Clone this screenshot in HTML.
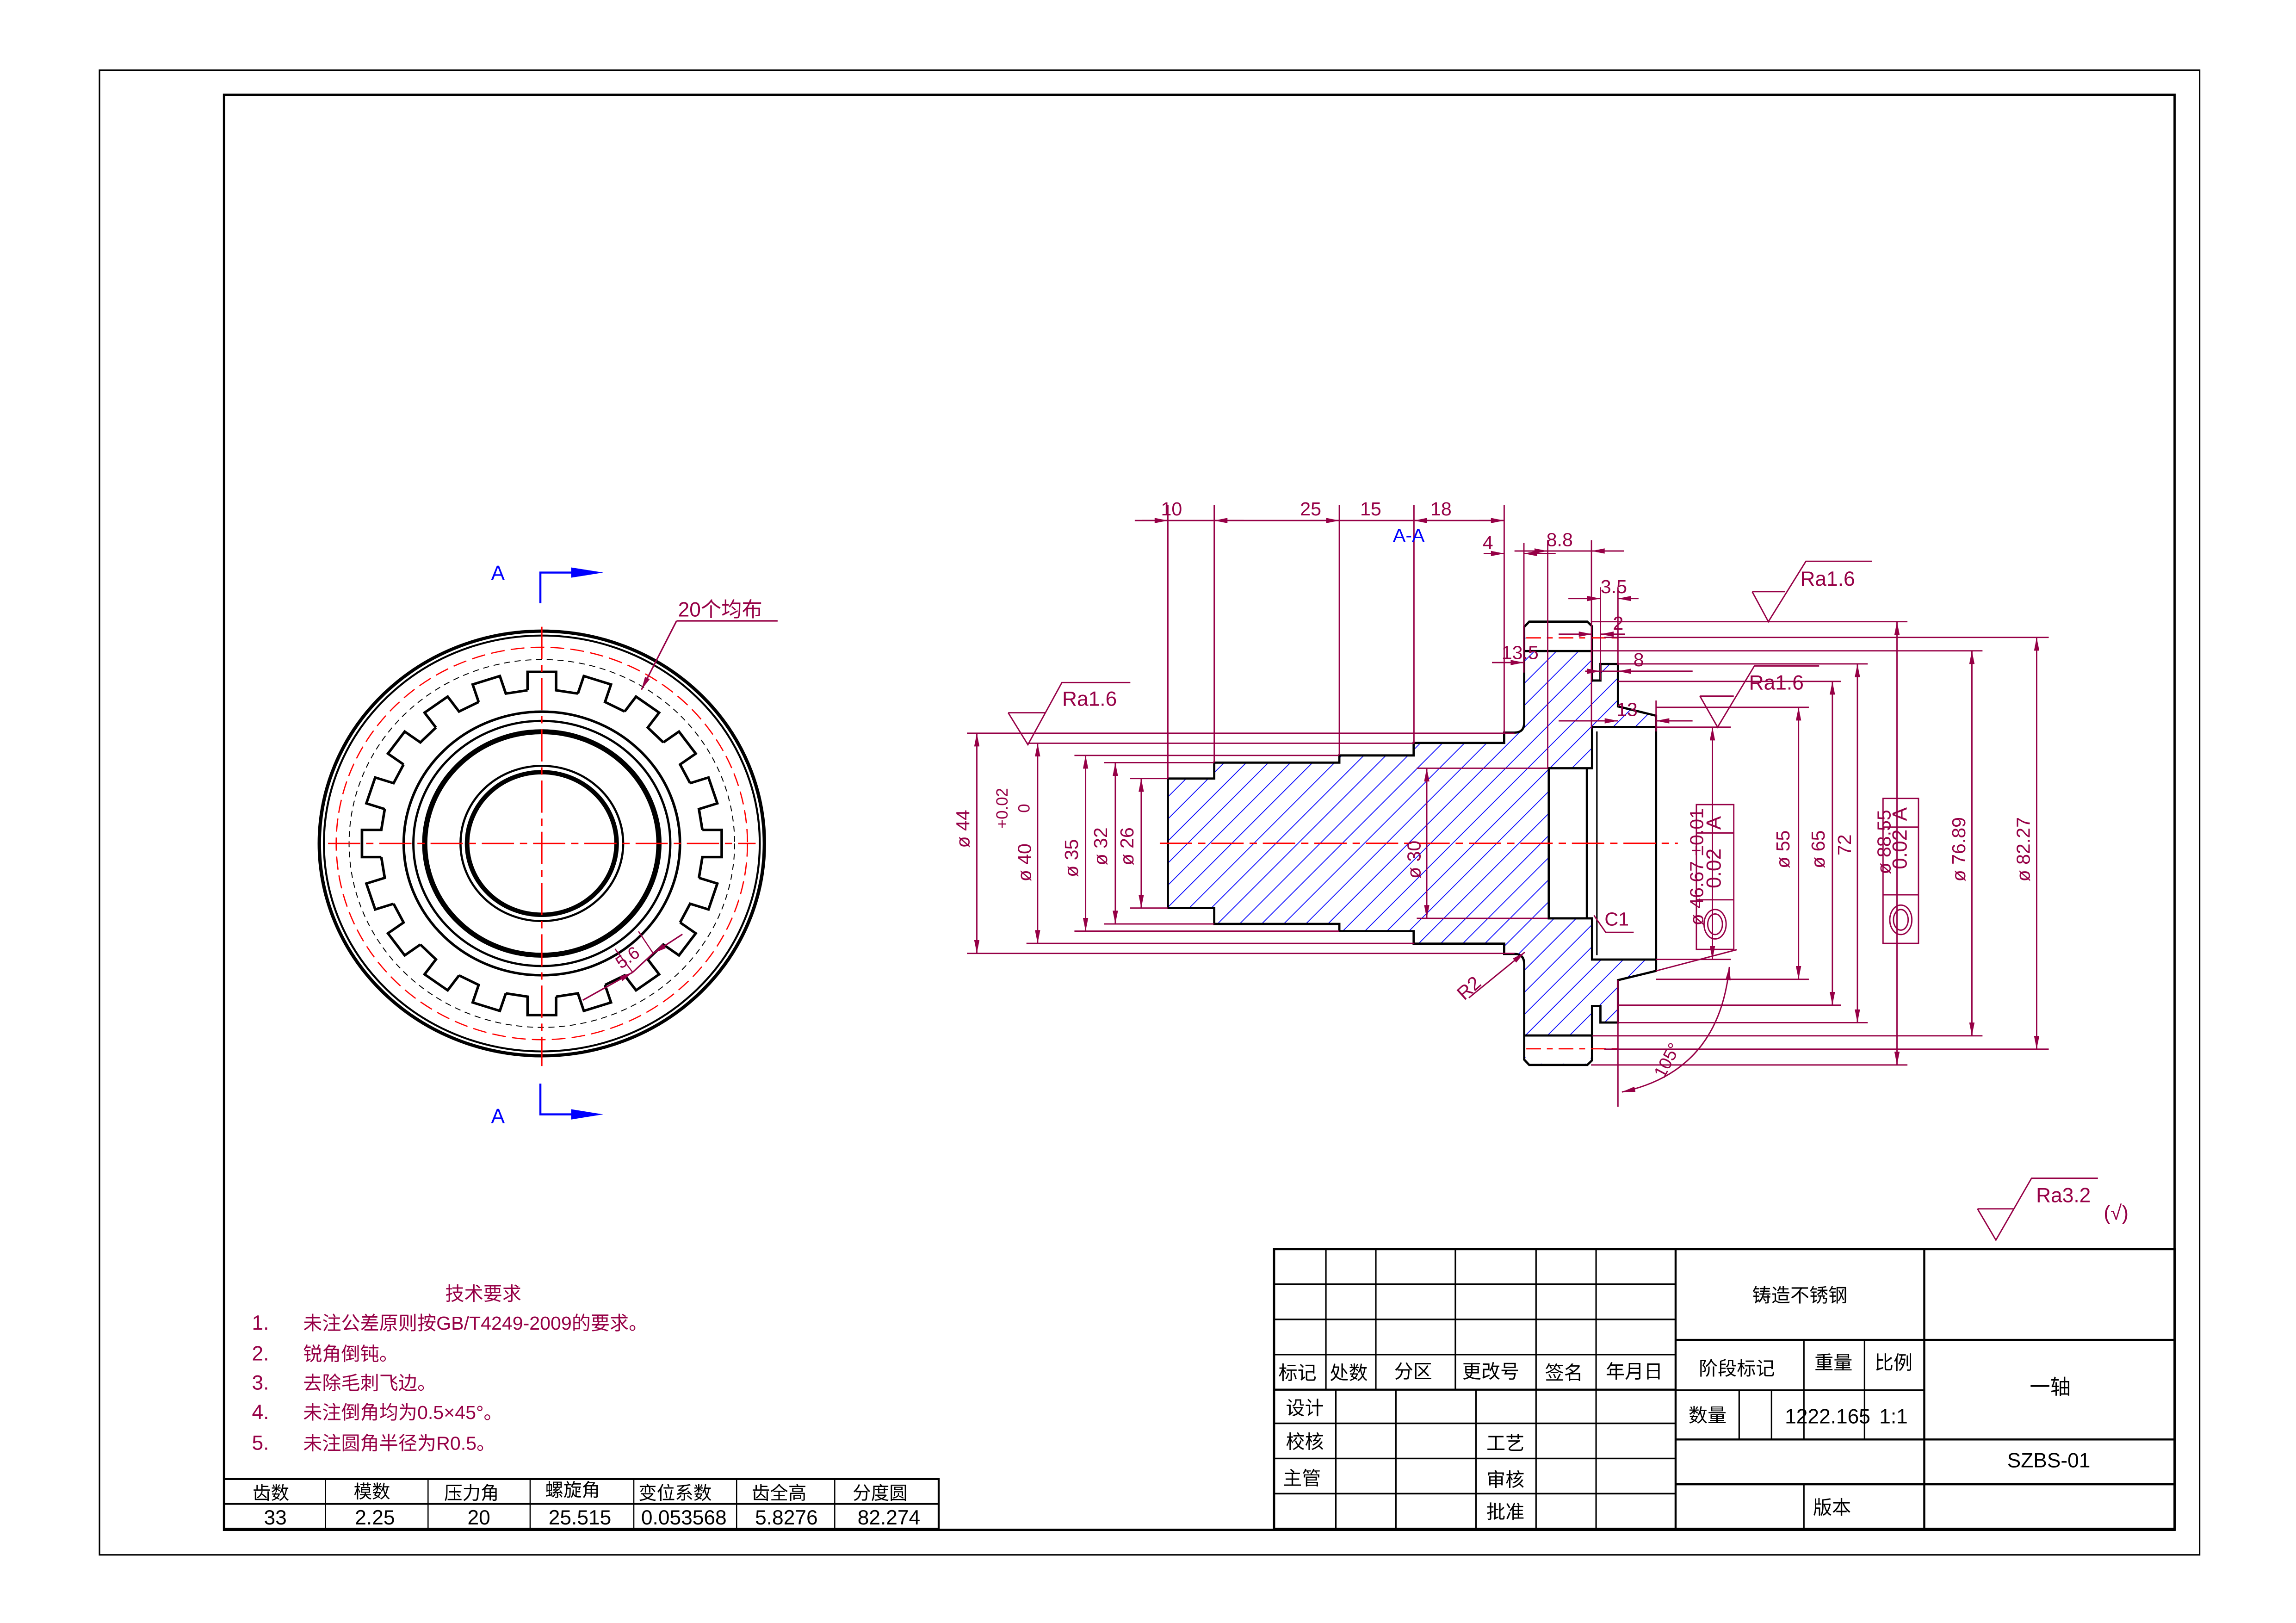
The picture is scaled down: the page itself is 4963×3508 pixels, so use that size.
<!DOCTYPE html>
<html><head><meta charset="utf-8">
<style>
html,body{margin:0;padding:0;background:#fff;}
svg{display:block;}
text{font-family:"Liberation Sans Narrow","Liberation Sans","Noto Sans CJK SC",sans-serif;}
</style></head>
<body>
<svg xmlns="http://www.w3.org/2000/svg" width="4963" height="3508" viewBox="0 0 1560 1102.8" preserveAspectRatio="none">
<defs>
<marker id="ar" viewBox="0 0 10 4" refX="10" refY="2" markerWidth="10" markerHeight="3.6" markerUnits="userSpaceOnUse" orient="auto-start-reverse">
<path d="M0,0 L10,2 L0,4 z" fill="#960046"/></marker>
<pattern id="hatch" patternUnits="userSpaceOnUse" width="15" height="15">
<path d="M-2,17 L17,-2 M-2,2 L2,-2 M13,17 L17,13" stroke="#0000ff" stroke-width="0.55"/></pattern>
<clipPath id="mat"><path id="matp" d="M793.5,529 L825,529 L825,518.2 L910,518.2 L910,513.3 L960.5,513.3 L960.5,504.8 L1022,504.8 L1022,497.8 L1029,497.8 Q1035.6,497.8 1035.6,491 L1035.6,426 L1039,422.4 L1078.5,422.4 L1081.7,425.5 L1081.7,462.4 L1087.4,462.4 L1087.4,451.2 L1099.3,451.2 L1099.3,480 L1125.2,486.3 L1125.2,494 L1081.7,494 L1081.7,522 L1052.3,522 L1052.3,624 L1081.7,624 L1081.7,652 L1125.2,652 L1125.2,659.7 L1099.3,666 L1099.3,694.8 L1087.4,694.8 L1087.4,683.6 L1081.7,683.6 L1081.7,720.5 L1078.5,723.6 L1039,723.6 L1035.6,720 L1035.6,655 Q1035.6,648.2 1029,648.2 L1022,648.2 L1022,641.2 L960.5,641.2 L960.5,632.7 L910,632.7 L910,627.8 L825,627.8 L825,617 L793.5,617 Z"/></clipPath>
<path id="tooth" d="M-9.3,-104.6 L-9.3,-117.2 L9.3,-117.2 L9.3,-104.6 L23.48,-102.36" fill="none" stroke="#000" stroke-width="1.7"/>
</defs>

<rect width="1560" height="1102.8" fill="#fff"/>
<!-- frames -->
<rect x="67.6" y="47.7" width="1426.9" height="1008.8" fill="none" stroke="#000" stroke-width="1"/>
<rect x="152.2" y="64.4" width="1325.3" height="975.1" fill="none" stroke="#000" stroke-width="1.5"/>

<!-- ===== GEAR VIEW (perceived coords) ===== -->
<g transform="scale(0.995)">
<g transform="translate(370,576) scale(1.048,1)" fill="none">
<circle r="145" stroke="#000" stroke-width="2.2"/>
<circle r="142" stroke="#000" stroke-width="1.3"/>
<circle r="134" stroke="#f00" stroke-width="0.8" stroke-dasharray="9 4"/>
<circle r="125.6" stroke="#000" stroke-width="0.6" stroke-dasharray="4 3"/>
<use href="#tooth"/><use href="#tooth" transform="rotate(18)"/><use href="#tooth" transform="rotate(36)"/><use href="#tooth" transform="rotate(54)"/><use href="#tooth" transform="rotate(72)"/><use href="#tooth" transform="rotate(90)"/><use href="#tooth" transform="rotate(108)"/><use href="#tooth" transform="rotate(126)"/><use href="#tooth" transform="rotate(144)"/><use href="#tooth" transform="rotate(162)"/><use href="#tooth" transform="rotate(180)"/><use href="#tooth" transform="rotate(198)"/><use href="#tooth" transform="rotate(216)"/><use href="#tooth" transform="rotate(234)"/><use href="#tooth" transform="rotate(252)"/><use href="#tooth" transform="rotate(270)"/><use href="#tooth" transform="rotate(288)"/><use href="#tooth" transform="rotate(306)"/><use href="#tooth" transform="rotate(324)"/><use href="#tooth" transform="rotate(342)"/>
<circle r="90" stroke="#000" stroke-width="1.7"/>
<circle r="83.7" stroke="#000" stroke-width="1.5"/>
<circle r="76.3" stroke="#000" stroke-width="3.4"/>
<circle r="53" stroke="#000" stroke-width="1.4"/>
<circle r="48.7" stroke="#000" stroke-width="3"/>
</g>
<line x1="224" y1="576" x2="516" y2="576" stroke="#f00" stroke-width="0.9" stroke-dasharray="22 4 5 4"/>
<line x1="370" y1="428" x2="370" y2="728" stroke="#f00" stroke-width="0.9" stroke-dasharray="22 4 5 4"/>
<!-- section markers -->
<text x="340" y="396" font-size="14" fill="#0000ff" text-anchor="middle">A</text>
<path d="M369,412 L369,391 L392,391" stroke="#0000ff" stroke-width="1.4" fill="none"/>
<path d="M390,387.5 L412,391 L390,394.5 z" fill="#0000ff"/>
<text x="340" y="767" font-size="14" fill="#0000ff" text-anchor="middle">A</text>
<path d="M369,740 L369,761 L392,761" stroke="#0000ff" stroke-width="1.4" fill="none"/>
<path d="M390,757.5 L412,761 L390,764.5 z" fill="#0000ff"/>
<!-- 20 leader -->
<text x="463" y="421" font-size="14" fill="#960046" font-family="Liberation Sans Narrow,Liberation Sans,Noto Sans CJK SC,sans-serif">20个均布</text>
<line x1="462" y1="424" x2="531" y2="424" stroke="#960046" stroke-width="1"/>
<line x1="462" y1="424" x2="438" y2="471" stroke="#960046" stroke-width="1" marker-end="url(#ar)"/>
<!-- 5.6 -->
<line x1="398" y1="683" x2="432" y2="664" stroke="#960046" stroke-width="1" marker-end="url(#ar)"/>
<line x1="466" y1="638" x2="446" y2="651" stroke="#960046" stroke-width="1" marker-end="url(#ar)"/>
<line x1="432" y1="664" x2="446" y2="651" stroke="#960046" stroke-width="1"/>
<line x1="432" y1="664" x2="420" y2="648" stroke="#960046" stroke-width="0.8"/>
<line x1="446" y1="651" x2="436" y2="636" stroke="#960046" stroke-width="0.8"/>
<text transform="translate(424,662) rotate(-35)" font-size="12" fill="#960046">5.6</text>
</g>

<!-- ===== SECTION VIEW (true coords) ===== -->
<path d="M0,0" />
<rect x="780" y="410" width="360" height="330" fill="url(#hatch)" clip-path="url(#mat)"/>
<rect x="1036.5" y="423.3" width="44.3" height="19.1" fill="#fff"/>
<rect x="1036.5" y="703.6" width="44.3" height="19.1" fill="#fff"/>
<use href="#matp" fill="none" stroke="#000" stroke-width="1.5"/>
<g stroke="#000" fill="none">
<line x1="1035.6" y1="442.4" x2="1081.7" y2="442.4" stroke-width="1.5"/>
<line x1="1035.6" y1="703.6" x2="1081.7" y2="703.6" stroke-width="1.5"/>
<line x1="1125.2" y1="494" x2="1125.2" y2="652" stroke-width="1.5"/>
<line x1="1078.2" y1="522" x2="1078.2" y2="624" stroke-width="1.5"/>
<line x1="1085" y1="497" x2="1085" y2="649" stroke-width="1"/>
</g>
<g stroke="#f00" stroke-width="0.9" fill="none">
<line x1="788" y1="573" x2="1140" y2="573" stroke-dasharray="22 4 5 4"/>
<line x1="1037" y1="433.4" x2="1099" y2="433.4" stroke-dasharray="10 4 4 4"/>
<line x1="1037" y1="712.6" x2="1099" y2="712.6" stroke-dasharray="10 4 4 4"/>
</g>

<!-- dimension lines -->
<g stroke="#960046" stroke-width="0.9" fill="none">
<!-- top chain -->
<line x1="771" y1="353.7" x2="1022" y2="353.7"/>
<line x1="793.5" y1="343" x2="793.5" y2="529"/>
<line x1="825" y1="343" x2="825" y2="518"/>
<line x1="910" y1="343" x2="910" y2="513"/>
<line x1="960.7" y1="343" x2="960.7" y2="505"/>
<line x1="1022" y1="343" x2="1022" y2="498"/>
<line x1="776" y1="353.7" x2="793.5" y2="353.7" marker-end="url(#ar)"/>
<line x1="845" y1="353.7" x2="825" y2="353.7" marker-end="url(#ar)"/>
<line x1="890" y1="353.7" x2="910" y2="353.7" marker-end="url(#ar)"/>
<line x1="980" y1="353.7" x2="960.7" y2="353.7" marker-end="url(#ar)"/>
<line x1="1005" y1="353.7" x2="1022" y2="353.7" marker-end="url(#ar)"/>
<!-- 4 and 8.8 -->
<line x1="1035.4" y1="369" x2="1035.4" y2="457"/>
<line x1="1051.6" y1="367" x2="1051.6" y2="522"/>
<line x1="1081.3" y1="367" x2="1081.3" y2="495"/>
<line x1="1008" y1="376.1" x2="1022" y2="376.1" marker-end="url(#ar)"/>
<line x1="1057" y1="376.1" x2="1035.4" y2="376.1" marker-end="url(#ar)"/>
<line x1="1029" y1="374.4" x2="1051.6" y2="374.4" marker-end="url(#ar)"/>
<line x1="1103.5" y1="374.4" x2="1081.3" y2="374.4" marker-end="url(#ar)"/>
<line x1="1051.6" y1="374.4" x2="1081.3" y2="374.4"/>
<!-- 3.5 -->
<line x1="1087.4" y1="399" x2="1087.4" y2="462"/>
<line x1="1099.3" y1="399" x2="1099.3" y2="452"/>
<line x1="1065.6" y1="406.7" x2="1087.4" y2="406.7" marker-end="url(#ar)"/>
<line x1="1113.3" y1="406.7" x2="1099.3" y2="406.7" marker-end="url(#ar)"/>
<!-- 2 -->
<line x1="1059" y1="430.9" x2="1081.7" y2="430.9" marker-end="url(#ar)"/>
<line x1="1104" y1="430.9" x2="1087.4" y2="430.9" marker-end="url(#ar)"/>
<!-- 13.5 -->
<line x1="1013.7" y1="450.2" x2="1035.4" y2="450.2" marker-end="url(#ar)"/>
<!-- 8 -->
<line x1="1087" y1="456.1" x2="1150" y2="456.1"/>
<line x1="1077" y1="456.1" x2="1087.4" y2="456.1" marker-end="url(#ar)"/>
<line x1="1150" y1="456.1" x2="1099.3" y2="456.1" marker-end="url(#ar)"/>
<!-- 13 -->
<line x1="1125.2" y1="476" x2="1125.2" y2="497"/>
<line x1="1059" y1="489.8" x2="1099.3" y2="489.8" marker-end="url(#ar)"/>
<line x1="1150" y1="489.8" x2="1125.2" y2="489.8" marker-end="url(#ar)"/>

<!-- right diameter ext lines -->
<line x1="1081" y1="422.4" x2="1296" y2="422.4"/>
<line x1="1081" y1="723.6" x2="1296" y2="723.6"/>
<line x1="1090" y1="433.1" x2="1392" y2="433.1"/>
<line x1="1090" y1="712.9" x2="1392" y2="712.9"/>
<line x1="1082" y1="442.2" x2="1347" y2="442.2"/>
<line x1="1082" y1="703.8" x2="1347" y2="703.8"/>
<line x1="1099.3" y1="451.1" x2="1269" y2="451.1"/>
<line x1="1099.3" y1="694.9" x2="1269" y2="694.9"/>
<line x1="1099.3" y1="463" x2="1251" y2="463"/>
<line x1="1099.3" y1="683" x2="1251" y2="683"/>
<line x1="1125.2" y1="480.6" x2="1229" y2="480.6"/>
<line x1="1125.2" y1="665.4" x2="1229" y2="665.4"/>
<line x1="1125.2" y1="494.1" x2="1176" y2="494.1"/>
<line x1="1125.2" y1="651.9" x2="1176" y2="651.9"/>
<!-- right verticals -->
<line x1="1288.9" y1="422.4" x2="1288.9" y2="723.6" marker-start="url(#ar)" marker-end="url(#ar)"/>
<line x1="1383.8" y1="433.1" x2="1383.8" y2="712.9" marker-start="url(#ar)" marker-end="url(#ar)"/>
<line x1="1339.8" y1="442.2" x2="1339.8" y2="703.8" marker-start="url(#ar)" marker-end="url(#ar)"/>
<line x1="1262" y1="451.1" x2="1262" y2="694.9" marker-start="url(#ar)" marker-end="url(#ar)"/>
<line x1="1245" y1="463" x2="1245" y2="683" marker-start="url(#ar)" marker-end="url(#ar)"/>
<line x1="1222" y1="480.6" x2="1222" y2="665.4" marker-start="url(#ar)" marker-end="url(#ar)"/>
<line x1="1163.5" y1="494.1" x2="1163.5" y2="651.9" marker-start="url(#ar)" marker-end="url(#ar)"/>

<!-- left ext lines -->
<line x1="657" y1="498.2" x2="1029" y2="498.2"/>
<line x1="657" y1="647.8" x2="1029" y2="647.8"/>
<line x1="697.4" y1="505" x2="961" y2="505"/>
<line x1="697.4" y1="641" x2="961" y2="641"/>
<line x1="730" y1="513.3" x2="910" y2="513.3"/>
<line x1="730" y1="632.7" x2="910" y2="632.7"/>
<line x1="750.2" y1="518.2" x2="825" y2="518.2"/>
<line x1="750.2" y1="627.8" x2="825" y2="627.8"/>
<line x1="767.8" y1="529" x2="793.5" y2="529"/>
<line x1="767.8" y1="617" x2="793.5" y2="617"/>
<line x1="962.6" y1="522" x2="1051.6" y2="522"/>
<line x1="962.6" y1="624" x2="1051.6" y2="624"/>
<!-- left verticals -->
<line x1="663.7" y1="498.2" x2="663.7" y2="647.8" marker-start="url(#ar)" marker-end="url(#ar)"/>
<line x1="705" y1="505" x2="705" y2="641" marker-start="url(#ar)" marker-end="url(#ar)"/>
<line x1="737.6" y1="513.3" x2="737.6" y2="632.7" marker-start="url(#ar)" marker-end="url(#ar)"/>
<line x1="757.8" y1="518.2" x2="757.8" y2="627.8" marker-start="url(#ar)" marker-end="url(#ar)"/>
<line x1="775.4" y1="529" x2="775.4" y2="617" marker-start="url(#ar)" marker-end="url(#ar)"/>
<line x1="969.4" y1="522" x2="969.4" y2="624" marker-start="url(#ar)" marker-end="url(#ar)"/>

<!-- Ra symbols -->
<path d="M685,484.3 L710.5,484.3 M685,484.3 L698.4,506 L721.5,463.8 L768,463.8"/>
<path d="M1190.5,402 L1213,402 M1190.5,402 L1201.5,422.4 L1227,381.4 L1272,381.4"/>
<path d="M1155,473 L1178,473 M1155,473 L1167,494.1 L1192,452.5 L1236,452.5"/>
<path d="M1343.6,821.4 L1368.2,821.4 M1343.6,821.4 L1356.1,842.6 L1380.3,800.6 L1425.4,800.6"/>

<!-- tolerance frames -->
<rect x="1152.6" y="546.7" width="25.4" height="98.4"/>
<line x1="1152.6" y1="611.4" x2="1178" y2="611.4"/>
<line x1="1152.6" y1="566" x2="1178" y2="566"/>
<ellipse cx="1165.3" cy="628" rx="7.5" ry="10"/>
<ellipse cx="1165.3" cy="628" rx="5" ry="7"/>
<rect x="1279.4" y="542.5" width="24.1" height="98.5"/>
<line x1="1279.4" y1="608" x2="1303.5" y2="608"/>
<line x1="1279.4" y1="562" x2="1303.5" y2="562"/>
<ellipse cx="1291.5" cy="625" rx="7.5" ry="10"/>
<ellipse cx="1291.5" cy="625" rx="5" ry="7"/>

<!-- C1 -->
<path d="M1083,622 L1091,633.5 L1110,633.5"/>
<!-- R2 -->
<line x1="998" y1="678" x2="1036" y2="647" marker-end="url(#ar)"/>
<!-- 105 deg -->
<line x1="1099.3" y1="666" x2="1099.3" y2="752"/>
<line x1="1125.2" y1="659.7" x2="1180" y2="645.3"/>
<path d="M1102,742 Q1168,728 1175,657" marker-start="url(#ar)" marker-end="url(#ar)"/>
</g>

<!-- section labels (perceived coords) -->
<g transform="scale(0.995)" fill="#960046" font-size="13">
<text x="800" y="352" text-anchor="middle">10</text>
<text x="895" y="352" text-anchor="middle">25</text>
<text x="936" y="352" text-anchor="middle">15</text>
<text x="984" y="352" text-anchor="middle">18</text>
<text x="962" y="370" text-anchor="middle" fill="#0000ff">A-A</text>
<text x="1016" y="375" text-anchor="middle">4</text>
<text x="1065" y="373" text-anchor="middle">8.8</text>
<text x="1102" y="405" text-anchor="middle">3.5</text>
<text x="1105" y="430" text-anchor="middle">2</text>
<text x="1038" y="450" text-anchor="middle">13.5</text>
<text x="1119" y="455" text-anchor="middle">8</text>
<text x="1111" y="489" text-anchor="middle">13</text>
<text x="744" y="482" text-anchor="middle" font-size="14">Ra1.6</text>
<text x="1248" y="400" text-anchor="middle" font-size="14">Ra1.6</text>
<text x="1213" y="471" text-anchor="middle" font-size="14">Ra1.6</text>
<text x="1409" y="821" text-anchor="middle" font-size="14">Ra3.2</text>
<text x="1445" y="833" text-anchor="middle" font-size="14">(√)</text>
<text x="1104" y="632" text-anchor="middle">C1</text>
<text transform="translate(1006,678) rotate(-42)" text-anchor="middle">R2</text>
<text transform="translate(1142,726) rotate(-62)" text-anchor="middle" font-size="12">105°</text>
<text transform="translate(662,566) rotate(-90)" text-anchor="middle">ø 44</text>
<text transform="translate(688,552) rotate(-90)" text-anchor="middle" font-size="11">+0.02</text>
<text transform="translate(703,552) rotate(-90)" text-anchor="middle" font-size="11">0</text>
<text transform="translate(704,589) rotate(-90)" text-anchor="middle">ø 40</text>
<text transform="translate(736,586) rotate(-90)" text-anchor="middle">ø 35</text>
<text transform="translate(756,578) rotate(-90)" text-anchor="middle">ø 32</text>
<text transform="translate(774,578) rotate(-90)" text-anchor="middle">ø 26</text>
<text transform="translate(970,587) rotate(-90)" text-anchor="middle">ø 30</text>
<text transform="translate(1163,592) rotate(-90)" text-anchor="middle">ø 46.67 ±0.01</text>
<text transform="translate(1175,593) rotate(-90)" text-anchor="middle" font-size="14">0.02</text>
<text transform="translate(1175,562) rotate(-90)" text-anchor="middle" font-size="14">A</text>
<text transform="translate(1222,580) rotate(-90)" text-anchor="middle">ø 55</text>
<text transform="translate(1246,580) rotate(-90)" text-anchor="middle">ø 65</text>
<text transform="translate(1264,577) rotate(-90)" text-anchor="middle">72</text>
<text transform="translate(1291,575) rotate(-90)" text-anchor="middle">ø 88.55</text>
<text transform="translate(1302,580) rotate(-90)" text-anchor="middle" font-size="14">0.02</text>
<text transform="translate(1302,556) rotate(-90)" text-anchor="middle" font-size="14">A</text>
<text transform="translate(1342,580) rotate(-90)" text-anchor="middle">ø 76.89</text>
<text transform="translate(1386,580) rotate(-90)" text-anchor="middle">ø 82.27</text>
</g>

<!-- ===== TECH REQUIREMENTS + PARAM TABLE ===== -->
<g transform="scale(0.995)">
<g fill="#960046" font-size="14">
<text x="330" y="888" text-anchor="middle" font-size="13">技术要求</text>
<text x="172" y="908">1.</text><text x="207" y="908" font-size="13">未注公差原则按GB/T4249-2009的要求。</text>
<text x="172" y="929">2.</text><text x="207" y="929" font-size="13">锐角倒钝。</text>
<text x="172" y="949">3.</text><text x="207" y="949" font-size="13">去除毛刺飞边。</text>
<text x="172" y="969">4.</text><text x="207" y="969" font-size="13">未注倒角均为0.5×45°。</text>
<text x="172" y="990">5.</text><text x="207" y="990" font-size="13">未注圆角半径为R0.5。</text>
</g>
<g stroke="#000" fill="none">
<rect x="153" y="1010" width="488" height="34" stroke-width="1.4"/>
<line x1="153" y1="1027" x2="641" y2="1027" stroke-width="1.2"/>
<line x1="222.3" y1="1010" x2="222.3" y2="1044" stroke-width="0.8"/>
<line x1="292.3" y1="1010" x2="292.3" y2="1044" stroke-width="0.8"/>
<line x1="362" y1="1010" x2="362" y2="1044" stroke-width="0.8"/>
<line x1="432.8" y1="1010" x2="432.8" y2="1044" stroke-width="0.8"/>
<line x1="503" y1="1010" x2="503" y2="1044" stroke-width="0.8"/>
<line x1="570" y1="1010" x2="570" y2="1044" stroke-width="0.8"/>
</g>
<g fill="#000" font-size="12.5" text-anchor="middle">
<text x="185" y="1024">齿数</text><text x="254" y="1023">模数</text><text x="322" y="1024">压力角</text><text x="391" y="1022">螺旋角</text><text x="461" y="1024">变位系数</text><text x="532" y="1024">齿全高</text><text x="601" y="1024">分度圆</text>
<text x="188" y="1041" font-size="14">33</text><text x="256" y="1041" font-size="14">2.25</text><text x="327" y="1041" font-size="14">20</text><text x="396" y="1041" font-size="14">25.515</text><text x="467" y="1041" font-size="14">0.053568</text><text x="537" y="1041" font-size="14">5.8276</text><text x="607" y="1041" font-size="14">82.274</text>
</g>

<!-- ===== TITLE BLOCK ===== -->
<g stroke="#000" fill="none">
<rect x="870" y="853" width="615" height="191" stroke-width="1.5"/>
<line x1="870" y1="877" x2="1144" y2="877" stroke-width="1.1"/>
<line x1="870" y1="901" x2="1144" y2="901" stroke-width="1.1"/>
<line x1="870" y1="925" x2="1144" y2="925" stroke-width="1.1"/>
<line x1="870" y1="949" x2="1144" y2="949" stroke-width="1.4"/>
<line x1="870" y1="972" x2="1144" y2="972" stroke-width="1.1"/>
<line x1="870" y1="996" x2="1144" y2="996" stroke-width="1.1"/>
<line x1="870" y1="1020" x2="1144" y2="1020" stroke-width="1.1"/>
<line x1="905.4" y1="853" x2="905.4" y2="949" stroke-width="1"/>
<line x1="939.5" y1="853" x2="939.5" y2="949" stroke-width="1"/>
<line x1="993.8" y1="853" x2="993.8" y2="949" stroke-width="1"/>
<line x1="912.2" y1="949" x2="912.2" y2="1044" stroke-width="1"/>
<line x1="953.2" y1="949" x2="953.2" y2="1044" stroke-width="1"/>
<line x1="1007.9" y1="949" x2="1007.9" y2="1044" stroke-width="1"/>
<line x1="1048.9" y1="853" x2="1048.9" y2="1044" stroke-width="1"/>
<line x1="1089.9" y1="853" x2="1089.9" y2="1044" stroke-width="1"/>
<line x1="1144.2" y1="853" x2="1144.2" y2="1044" stroke-width="1.4"/>
<line x1="1314" y1="853" x2="1314" y2="1044" stroke-width="1.4"/>
<line x1="1144.2" y1="915" x2="1485" y2="915" stroke-width="1.4"/>
<line x1="1144.2" y1="949.4" x2="1314" y2="949.4" stroke-width="1.2"/>
<line x1="1144.2" y1="983" x2="1485" y2="983" stroke-width="1.4"/>
<line x1="1144.2" y1="1013.6" x2="1485" y2="1013.6" stroke-width="1.4"/>
<line x1="1231.8" y1="915" x2="1231.8" y2="983" stroke-width="1"/>
<line x1="1273.2" y1="915" x2="1273.2" y2="983" stroke-width="1"/>
<line x1="1187.6" y1="949.4" x2="1187.6" y2="983" stroke-width="1"/>
<line x1="1209.7" y1="949.4" x2="1209.7" y2="983" stroke-width="1"/>
<line x1="1231.8" y1="1013.6" x2="1231.8" y2="1044" stroke-width="1"/>
</g>
<g fill="#000" font-size="13" text-anchor="middle">
<text x="1229" y="889">铸造不锈钢</text>
<text x="1186" y="939">阶段标记</text>
<text x="1252" y="935">重量</text>
<text x="1293" y="935">比例</text>
<text x="1400" y="952" font-size="14">一轴</text>
<text x="1166" y="971">数量</text>
<text x="1248" y="972" font-size="14">1222.165</text>
<text x="1293" y="972" font-size="14">1:1</text>
<text x="1399" y="1002" font-size="14">SZBS-01</text>
<text x="1251" y="1034">版本</text>
<text x="886" y="942">标记</text>
<text x="921" y="942">处数</text>
<text x="965" y="941">分区</text>
<text x="1018" y="941">更改号</text>
<text x="1068" y="942">签名</text>
<text x="1116" y="941">年月日</text>
<text x="891" y="966">设计</text>
<text x="891" y="989">校核</text>
<text x="1028" y="990">工艺</text>
<text x="889" y="1014">主管</text>
<text x="1028" y="1015">审核</text>
<text x="1028" y="1037">批准</text>
</g>
</g>
</svg>
</body></html>
